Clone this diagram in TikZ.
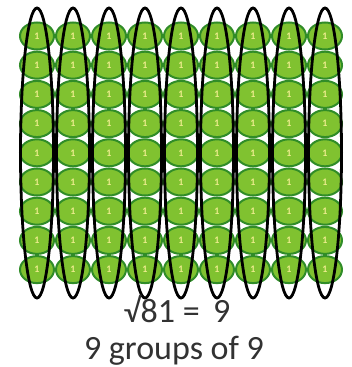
\documentclass[tikz,border=0pt]{standalone}
\usepackage{fontspec}
\setmainfont{Carlito}
\usetikzlibrary{shapes.geometric}
\definecolor{beadfill}{RGB}{128,194,48}
\definecolor{beadline}{RGB}{48,140,40}
\definecolor{beadtext}{RGB}{236,236,140}
\definecolor{captext}{RGB}{50,50,50}
\begin{document}
\begin{tikzpicture}[x=1pt,y=-1pt,
  bead/.style={draw=beadline,line width=2pt,fill=beadfill,ellipse,minimum width=34pt,minimum height=27pt,inner sep=0pt,
    font=\fontsize{10}{10}\selectfont\bfseries,text=beadtext},
  group/.style={draw=black,line width=2.8pt},
  caption/.style={font=\fontsize{34}{34}\selectfont,text=captext,inner sep=0pt,anchor=base}]
  \useasboundingbox (0,0) rectangle (352,367);
  % 9 x 9 beads
  \foreach \i in {1,...,9}{
    \foreach \j in {1,...,9}{
      \node[bead] (c-\i-\j) at ({37+36*(\i-1)},{36+29.2*(\j-1)}) {1};
    }
  }
  % groups of 9
  \foreach \i in {1,...,9}{
    \draw[group] ({37+36*(\i-1)},153) ellipse (16.5 and 145);
  }
  \node[caption] (root) at (177,322) {√81 =\ \,9};
  \node[caption] (cap) at (174,359) {9 groups of 9};
\end{tikzpicture}
\end{document}
